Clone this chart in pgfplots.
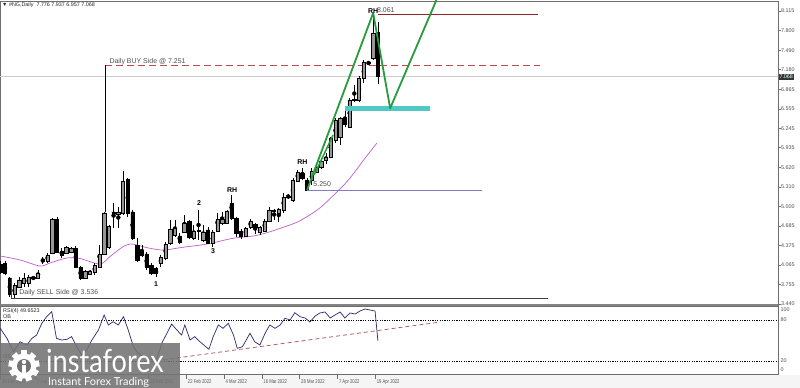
\documentclass[border=0pt]{standalone}
\usepackage{fontspec}
\setmainfont{Liberation Sans}
\newfontfamily\condfont[FakeStretch=0.75]{Liberation Sans}
\newfontfamily\logofont{Lato}
\usepackage{graphicx}
\usepackage{pgfplots}
\usepackage{pgfplotstable}
\pgfplotsset{compat=1.18}

\definecolor{bullbody}{RGB}{150,150,150}
\definecolor{macol}{RGB}{190,95,200}
\definecolor{rsicol}{RGB}{40,40,115}
\definecolor{rsitrend}{RGB}{180,95,95}
\definecolor{buycol}{RGB}{190,75,75}
\definecolor{hicol}{RGB}{150,35,35}
\definecolor{locol}{RGB}{125,125,195}
\definecolor{zonecol}{RGB}{80,200,195}
\definecolor{zigcol}{RGB}{40,155,60}
\definecolor{framecol}{RGB}{110,110,110}
\definecolor{lblcol}{RGB}{80,80,80}
\definecolor{boxcol}{RGB}{45,55,55}
\definecolor{wmcol}{RGB}{115,115,115}

\newcommand{\tk}{\fontsize{5.4}{6}\selectfont}
\newcommand{\an}{\fontsize{7}{8}\selectfont}

\pgfplotstableread{
i o h l c
0 4.078 4.126 3.918 3.950
1 4.094 4.126 3.903 3.934
2 3.855 3.871 3.552 3.599
3 3.599 3.775 3.536 3.743
4 3.711 3.871 3.695 3.823
5 3.775 3.934 3.711 3.855
6 3.775 3.903 3.711 3.871
7 3.855 3.887 3.823 3.871
8 3.855 3.982 3.839 3.934
9 4.158 4.190 4.078 4.126
10 4.126 4.254 4.094 4.222
11 4.254 4.812 4.238 4.796
12 4.796 4.828 4.254 4.270
13 4.286 4.333 4.174 4.222
14 4.254 4.365 4.238 4.349
15 4.270 4.349 4.254 4.333
16 4.333 4.365 4.014 4.030
17 4.030 4.046 3.823 3.855
18 3.855 3.982 3.839 3.966
19 3.918 3.982 3.903 3.966
20 3.950 4.094 3.903 4.062
21 4.030 4.381 4.014 4.238
22 4.238 4.908 4.222 4.892
23 4.349 4.700 4.317 4.684
24 4.908 5.051 4.652 4.892
25 4.876 4.988 4.652 4.908
26 4.892 5.562 4.860 5.402
27 5.434 5.450 4.828 4.892
28 4.908 4.940 4.461 4.493
29 4.381 4.493 4.110 4.142
30 4.286 4.381 4.190 4.222
31 4.238 4.270 3.982 4.030
32 4.062 4.094 3.903 3.934
33 4.014 4.030 3.871 3.934
34 4.094 4.222 4.030 4.190
35 4.174 4.429 4.142 4.397
36 4.413 4.780 4.381 4.637
37 4.541 4.780 4.509 4.652
38 4.525 4.573 4.397 4.429
39 4.589 4.860 4.573 4.732
40 4.764 4.780 4.477 4.509
41 4.493 4.700 4.461 4.605
42 4.605 4.940 4.461 4.610
43 4.461 4.700 4.429 4.589
44 4.621 4.668 4.397 4.413
45 4.413 4.621 4.349 4.589
46 4.605 4.892 4.589 4.796
47 4.732 4.908 4.700 4.796
48 4.732 4.940 4.716 4.924
49 5.051 5.179 4.780 4.812
50 4.812 4.828 4.509 4.573
51 4.605 4.637 4.477 4.525
52 4.525 4.668 4.509 4.652
53 4.668 4.796 4.637 4.764
54 4.716 4.732 4.557 4.668
55 4.589 4.684 4.541 4.668
56 4.605 4.796 4.589 4.764
57 4.764 4.988 4.748 4.940
58 4.924 4.956 4.780 4.929
59 4.892 4.972 4.748 4.956
60 4.940 5.211 4.892 5.147
61 5.147 5.195 5.115 5.152
62 5.099 5.450 5.067 5.418
63 5.402 5.578 5.386 5.546
64 5.530 5.610 5.418 5.450
65 5.418 5.450 5.250 5.259
66 5.418 5.610 5.339 5.562
67 5.546 5.658 5.530 5.626
68 5.626 5.769 5.594 5.721
69 5.737 5.849 5.674 5.785
70 5.785 6.105 5.769 6.089
71 6.057 6.408 6.009 6.376
72 6.105 6.424 5.977 6.408
73 6.408 6.535 6.264 6.312
74 6.264 6.727 6.248 6.695
75 6.695 6.934 6.663 6.700
76 6.695 7.078 6.663 7.046
77 7.046 7.333 6.966 7.301
78 7.285 7.301 7.269 7.290
79 7.365 8.061 7.333 7.764
80 7.776 7.937 6.957 7.068
}\candles

\pgfplotsset{chartx/.style={scale only axis, width=778bp, xmin=-0.064, xmax=164.77,
  enlargelimits=false, anchor=south west}}

\begin{document}
\begin{tikzpicture}[x=1bp,y=1bp]
\fill[white] (0bp,0bp) rectangle (800bp,388bp);
\fill[gray!8] (0bp,0bp) rectangle (800bp,12.5bp);

% ---------- main price panel ----------
\begin{axis}[chartx, at={(0bp,83bp)}, height=304bp, ymin=3.4239, ymax=8.2745,
  axis line style={framecol, line width=0.6bp},
  xtick=\empty,
  ytick={3.440,3.755,4.065,4.375,4.685,5.000,5.310,5.620,5.935,6.245,6.555,6.865,7.180,7.490,7.800,8.115},
  yticklabels={3.440,3.755,4.065,4.375,4.685,5.000,5.310,5.620,5.935,6.245,6.555,6.865,7.180,7.490,7.800,8.115},
  ytick pos=right, yticklabel pos=right, tick align=outside, major tick length=2.5bp,
  tick style={framecol, line width=0.5bp},
  yticklabel style={font=\tk, text=lblcol, inner sep=0.5bp},
]
\addplot[gray!40, line width=0.6bp] coordinates {(-1,7.068) (170,7.068)};
\addplot[buycol, line width=0.9bp, dash pattern=on 7bp off 4bp] coordinates {(22.2,7.251) (114.3,7.251)};
\addplot[black, line width=0.6bp] coordinates {(22.2,7.251) (22.2,4.908)};
\addplot[macol, line width=0.7bp, smooth] coordinates {
(0,4.206) (4.2,4.142) (8.4,4.046) (10.5,4.094) (14.1,4.174) (16.9,4.165) (21.1,4.078)
(23.2,4.195) (26.0,4.355) (27.6,4.397) (29.0,4.381) (31.1,4.338) (34.5,4.301) (38.7,4.345)
(43.8,4.397) (49.3,4.488) (53.6,4.525) (56.5,4.578) (60.7,4.684) (63.5,4.769) (67.7,4.972)
(72.0,5.280) (74.1,5.450) (77.3,5.769) (79.8,6.009)};
\addplot[only marks, mark=none, error bars/.cd, y dir=both, y explicit, error mark=none,
  error bar style={black, line width=0.7bp}]
  table[x=i, y expr={(\thisrow{h}+\thisrow{l})/2}, y error expr={(\thisrow{h}-\thisrow{l})/2}] {\candles};
\end{axis}

% ---------- candle bodies ----------
\begin{axis}[chartx, at={(0bp,83bp)}, height=304bp, ymin=3.4239, ymax=8.2745, hide axis,
  ybar stacked, bar width=3.3bp]
\addplot[draw=none, fill=none] table[x=i, y expr={min(\thisrow{o},\thisrow{c})}] {\candles};
\addplot[fill=bullbody, draw=black, line width=0.5bp] table[x=i, y expr={max(\thisrow{c}-\thisrow{o},0)}] {\candles};
\addplot[fill=black, draw=black, line width=0.5bp] table[x=i, y expr={max(\thisrow{o}-\thisrow{c},0)}] {\candles};
\end{axis}

% ---------- annotations ----------
\begin{axis}[chartx, at={(0bp,83bp)}, height=304bp, ymin=3.4239, ymax=8.2745, hide axis]
\addplot[black!75, line width=0.9bp] coordinates {(2.3,3.855) (2.3,3.536) (116,3.536)};
\addplot[hicol, line width=0.8bp] coordinates {(80,8.061) (114,8.061)};
\addplot[locol, line width=1.3bp] coordinates {(65,5.250) (102,5.250)};
\addplot[zonecol, line width=5bp] coordinates {(73,6.563) (91,6.563)};
\addplot[zigcol, line width=1.8bp, line join=round] coordinates {(65.0,5.259) (79.0,8.083) (82.6,6.563) (92.4,8.29)};
\addplot[zigcol, line width=1.5bp] coordinates {(66.5,5.498) (70.5,6.136)};
\node[anchor=base west, inner sep=0pt, font=\an, text=lblcol] at (axis cs:23.1,7.277) {Daily BUY Side @ 7.251};
\node[anchor=base west, inner sep=0pt, font=\an, text=lblcol] at (axis cs:4.0,3.585) {Daily SELL Side @ 3.536};
\node[anchor=base west, inner sep=0pt, font=\an, text=lblcol] at (axis cs:79.8,8.083) {8.061};
\node[anchor=base west, inner sep=0pt, font=\an, text=lblcol] at (axis cs:66.3,5.307) {5.250};
\node[inner sep=0pt, font=\an\bfseries] at (axis cs:79.0,8.115) {RH};
\node[inner sep=0pt, font=\an\bfseries] at (axis cs:64.0,5.698) {RH};
\node[inner sep=0pt, font=\an\bfseries] at (axis cs:49.1,5.251) {RH};
\node[inner sep=0pt, font=\an\bfseries] at (axis cs:42.1,5.051) {2};
\node[inner sep=0pt, font=\an\bfseries] at (axis cs:45.1,4.286) {3};
\node[inner sep=0pt, font=\an\bfseries] at (axis cs:33.0,3.759) {1};
\end{axis}

% ---------- RSI panel ----------
\begin{axis}[chartx, at={(0bp,13.3bp)}, height=68.4bp, ymin=0, ymax=100,
  axis line style={framecol, line width=0.6bp}, ytick=\empty,
  xtick={0,7.4,31.4,39.4,47.4,55.4,63.4,71.4,79.4},
  xticklabels={29 Dec 2021,7 Jan 2022,16 Feb 2022,22 Feb 2022,4 Mar 2022,16 Mar 2022,28 Mar 2022,7 Apr 2022,19 Apr 2022},
  xtick pos=left, tick align=outside, major tick length=4bp,
  tick style={framecol, line width=0.5bp},
  xticklabel style={font=\condfont\fontsize{5.6}{6}\selectfont, text=lblcol, anchor=north west, inner sep=0pt, xshift=1.5bp, yshift=-1bp},
]
\addplot[black, line width=0.5bp, dash pattern=on 1.2bp off 1.2bp] coordinates {(-1,80) (170,80)};
\addplot[black, line width=0.5bp, dash pattern=on 1.2bp off 1.2bp] coordinates {(-1,20) (170,20)};
\addplot[rsitrend, line width=0.8bp, dash pattern=on 4bp off 3bp] coordinates {(30,17.5) (93.2,77.0)};
\addplot[rsicol, line width=0.7bp] coordinates {
(0,67.8) (1.4,53.2) (2.8,33.6) (4.2,48.2) (5.6,43.4) (6.7,53.2) (7.7,58.0) (8.8,75.1)
(9.8,84.8) (10.9,92.1) (11.9,53.2) (13.0,50.7) (14.1,51.7) (15.1,55.6) (16.2,40.9)
(17.2,28.8) (18.3,36.1) (19.4,50.7) (20.8,65.4) (22.0,87.3) (22.9,72.7) (23.9,77.5)
(25.0,72.7) (26.1,84.8) (27.1,65.4) (28.2,40.9) (29.2,31.3) (30.3,26.3) (31.4,24.0)
(32.4,21.5) (33.1,21.5) (34.2,45.9) (35.3,60.5) (36.3,74.1) (37.4,65.4) (38.4,58.0)
(39.1,72.7) (40.2,50.7) (41.2,55.6) (42.3,48.2) (44.2,37.1) (45.1,55.6) (46.2,72.7)
(47.2,67.8) (48.3,75.1) (49.4,58.0) (50.2,38.6) (51.3,40.9) (52.9,60.5) (53.9,48.2)
(55.0,43.4) (56.1,60.5) (57.1,72.7) (58.2,67.8) (59.3,72.7) (60.3,82.5) (61.4,80.0)
(62.4,90.6) (63.5,84.8) (64.6,82.9) (65.6,77.0) (66.7,85.8) (67.7,90.2) (68.8,91.7)
(69.9,82.9) (70.9,87.3) (72.0,91.7) (73.0,82.9) (74.1,90.2) (75.2,88.7) (76.2,93.1)
(77.3,96.1) (78.3,94.6) (79.4,93.1) (80.0,49.65)};
\end{axis}

% separator between panels
\draw[framecol!85, line width=2bp] (0bp,82.5bp) -- (778bp,82.5bp);

% right-hand labels
\node[anchor=west, fill=boxcol, text=white, font=\tk, inner sep=0.8bp] at (778.5bp,311bp) {7.068};
\node[anchor=west, font=\tk, text=lblcol, inner sep=0.5bp] at (780bp,78bp) {100};
\node[anchor=west, font=\tk, text=lblcol, inner sep=0.5bp] at (780bp,68bp) {80};
\node[anchor=west, font=\tk, text=lblcol, inner sep=0.5bp] at (780bp,27bp) {20};
\node[anchor=west, font=\tk, text=lblcol, inner sep=0.5bp] at (780bp,18bp) {0};

% header and RSI caption
\node[anchor=west, font=\tk, text=black!85, inner sep=0pt] at (2bp,383bp) {▼ \#NG,Daily\ \ 7.776 7.937 6.957 7.068};
\node[anchor=west, font=\tk, text=black!85, inner sep=0pt] at (3bp,76.5bp) {RSI(4) 49.6523};
\node[anchor=west, font=\tk, text=black!85, inner sep=0pt] at (3bp,71.5bp) {OB};
\node[anchor=west, font=\tk, text=black!85, inner sep=0pt] at (3bp,31bp) {OS};

% watermark
\fill[wmcol, fill opacity=0.88] (0bp,0bp) rectangle (180bp,45bp);
\fill[white] (24bp,22bp) circle (12.5bp);
\foreach \a in {0,40,...,320} {
  \fill[white, rotate around={\a:(24bp,22bp)}] (21bp,32bp) rectangle (27bp,37.5bp);
}
\fill[wmcol] (24bp,22bp) circle (7bp);
\fill[white] (24bp,26bp) circle (2.2bp);
\fill[white] (22.3bp,14bp) rectangle (25.7bp,23bp);
\node[anchor=base west, text=white, inner sep=0pt] at (46bp,16bp) {\scalebox{0.85}[1]{\logofont\fontsize{32}{32}\selectfont instaforex}};
\node[anchor=base west, text=white, inner sep=0pt] at (48bp,2.5bp) {\logofont\fontsize{11}{11}\selectfont Instant Forex Trading};

\pgfresetboundingbox
\path[use as bounding box] (0bp,0bp) rectangle (800bp,388bp);
\end{tikzpicture}
\end{document}
